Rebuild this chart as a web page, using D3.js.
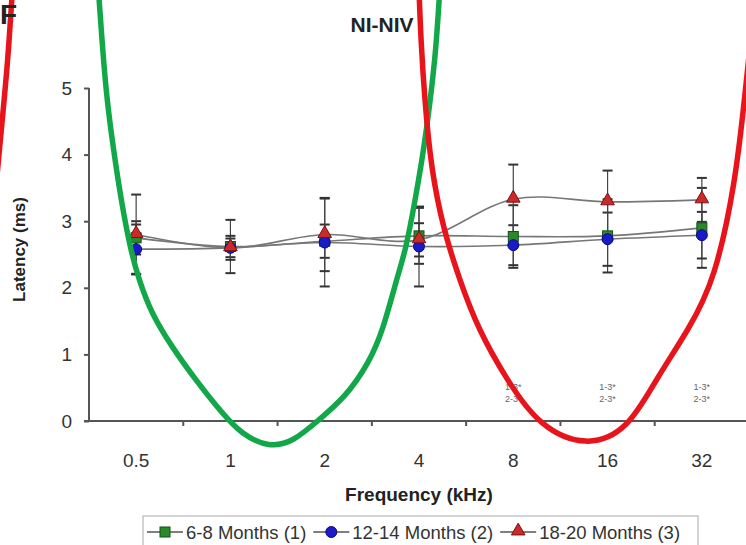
<!DOCTYPE html>
<html>
<head>
<meta charset="utf-8">
<script src="https://cdn.jsdelivr.net/npm/d3@7"></script>
<style>
  body { margin: 0; background: #fff; }
  svg { display: block; font-family: "Liberation Sans", Arial, sans-serif; }
</style>
</head>
<body>
<svg id="chart" width="746" height="545"></svg>
<script>
// frequencies (kHz) on the category axis
var frequencies = ["0.5", "1", "2", "4", "8", "16", "32"];

// mean latency (ms) per age group
var months6to8   = [2.75, 2.62, 2.70, 2.78, 2.77, 2.78, 2.90];
var months12to14 = [2.58, 2.60, 2.68, 2.62, 2.64, 2.73, 2.79];
var months18to20 = [2.80, 2.60, 2.80, 2.72, 3.33, 3.29, 3.32];

// error bar half-widths (ms)
var err6to8   = [0.25, 0.40, 0.25, 0.42, 0.47, 0.55, 0.60];
var err12to14 = [0.37, 0.14, 0.66, 0.60, 0.30, 0.40, 0.35];
var err18to20 = [0.60, 0.18, 0.55, 0.25, 0.52, 0.47, 0.33];

var yTicks = [0, 1, 2, 3, 4, 5];

// significance notes under each frequency
var sigFirst  = ["", "", "", "", "1-3*", "1-3*", "1-3*"];
var sigSecond = ["", "", "", "", "2-3*", "2-3*", "2-3*"];

// hand drawn loops over the figure, as [category position, latency]
var greenLoop = [[-0.40, 6.47], [-0.355, 5.57], [-0.31, 4.82], [-0.24, 4.07], [-0.16, 3.32],
    [-0.06, 2.57], [0.03, 2.12], [0.16, 1.62], [0.38, 1.11], [0.63, 0.62], [0.91, 0.12],
    [1.12, -0.20], [1.41, -0.40], [1.67, -0.31], [1.94, 0.02], [2.22, 0.36], [2.47, 0.87],
    [2.62, 1.37], [2.76, 2.12], [2.86, 2.57], [2.96, 3.32], [3.05, 4.07], [3.12, 4.82],
    [3.18, 5.57], [3.22, 6.47]];
var redLoop = [[3.00, 6.47], [3.02, 5.72], [3.06, 4.82], [3.13, 3.77], [3.26, 2.87],
    [3.43, 2.12], [3.63, 1.37], [3.93, 0.62], [4.27, -0.08], [4.78, -0.40], [5.22, -0.13],
    [5.51, 0.62], [5.86, 1.37], [6.14, 2.12], [6.36, 3.62], [6.45, 4.82], [6.52, 5.72],
    [6.55, 6.47]];
var redLoopLeft = [[-1.31, 6.47], [-1.32, 6.32], [-1.36, 5.42], [-1.42, 4.52], [-1.49, 3.47]];

var series = [
    { name: "6-8 Months (1)", values: months6to8, errors: err6to8, shape: "square", fill: "#2a8a2a", edge: "#14501a" },
    { name: "12-14 Months (2)", values: months12to14, errors: err12to14, shape: "circle", fill: "#1a1ac8", edge: "#0a0a7a" },
    { name: "18-20 Months (3)", values: months18to20, errors: err18to20, shape: "triangle", fill: "#cc2a2a", edge: "#7a1010" }
];

function drawLatencyChart() {
    let chart = d3.select("#chart"),
        margin = { top: 88, right: -3, bottom: 124, left: 89 },
        width = +chart.attr("width") - margin.left - margin.right,
        height = +chart.attr("height") - margin.top - margin.bottom;

    let x = d3.scaleBand()
        .domain(frequencies)
        .range([0, width]);

    let y = d3.scaleLinear()
        .domain([0, 5])
        .range([height, 0]);

    // category position scale, used for the hand drawn loops
    let xPos = d3.scaleLinear()
        .domain([0, frequencies.length - 1])
        .range([x(frequencies[0]) + x.bandwidth() / 2, x(frequencies[frequencies.length - 1]) + x.bandwidth() / 2]);

    let focus = chart.append("g")
        .attr("transform", "translate(" + margin.left + "," + margin.top + ")");

    // panel letter
    chart.append("text")
        .attr("x", 0)
        .attr("y", 24)
        .style("font-size", "28px")
        .style("font-weight", "bold")
        .style("fill", "#222")
        .text("F");

    chart.append("text")
        .attr("x", 382)
        .attr("y", 32)
        .attr("text-anchor", "middle")
        .style("font-size", "21px")
        .style("font-weight", "bold")
        .style("fill", "#222")
        .text("NI-NIV");

    // axes
    let yAxis = d3.axisLeft(y)
        .tickValues(yTicks)
        .tickFormat(d3.format("d"))
        .tickSize(5)
        .tickPadding(12);

    let gy = focus.append("g").call(yAxis);
    gy.select(".domain").attr("d", "M0," + y(5) + "V" + height);
    gy.selectAll("line").attr("stroke", "#555").attr("stroke-width", 2);
    gy.selectAll("path").attr("stroke", "#555").attr("stroke-width", 2);
    gy.selectAll("text")
        .style("font-size", "19px")
        .style("fill", "#333")
        .style("font-family", "Liberation Sans, Arial, sans-serif");

    let gx = focus.append("g")
        .attr("transform", "translate(0," + height + ")");
    gx.append("line")
        .attr("x1", -5)
        .attr("x2", width)
        .attr("stroke", "#555")
        .attr("stroke-width", 2);
    gx.selectAll(".tick")
        .data(frequencies.slice(1))
        .enter().append("line")
        .attr("x1", d => x(d))
        .attr("x2", d => x(d))
        .attr("y1", 0)
        .attr("y2", 5)
        .attr("stroke", "#555")
        .attr("stroke-width", 2);
    gx.selectAll(".label")
        .data(frequencies)
        .enter().append("text")
        .attr("x", d => x(d) + x.bandwidth() / 2)
        .attr("y", 46)
        .attr("text-anchor", "middle")
        .style("font-size", "19px")
        .style("fill", "#333")
        .text(d => d);

    focus.append("text")
        .attr("text-anchor", "middle")
        .attr("transform", "translate(" + (-64) + "," + (height / 2 - 5) + ") rotate(-90)")
        .style("font-size", "17px")
        .style("font-weight", "bold")
        .style("fill", "#222")
        .text("Latency (ms)");

    focus.append("text")
        .attr("text-anchor", "middle")
        .attr("x", x("4") + x.bandwidth() / 2)
        .attr("y", height + 80)
        .style("font-size", "19px")
        .style("font-weight", "bold")
        .style("fill", "#222")
        .text("Frequency (kHz)");

    // significance notes
    focus.selectAll(".sig1")
        .data(frequencies)
        .enter().append("text")
        .attr("x", d => x(d) + x.bandwidth() / 2)
        .attr("y", height - 31)
        .attr("text-anchor", "middle")
        .style("font-size", "9px")
        .style("fill", "#666")
        .text((d, i) => sigFirst[i]);
    focus.selectAll(".sig2")
        .data(frequencies)
        .enter().append("text")
        .attr("x", d => x(d) + x.bandwidth() / 2)
        .attr("y", height - 19)
        .attr("text-anchor", "middle")
        .style("font-size", "9px")
        .style("fill", "#666")
        .text((d, i) => sigSecond[i]);

    let cx = d => x(d) + x.bandwidth() / 2;

    // error bars
    series.forEach(s => {
        let bars = focus.append("g");
        frequencies.forEach((f, i) => {
            let top = y(s.values[i] + s.errors[i]),
                bottom = y(s.values[i] - s.errors[i]);
            bars.append("line")
                .attr("x1", cx(f)).attr("x2", cx(f))
                .attr("y1", top).attr("y2", bottom)
                .attr("stroke", "#444").attr("stroke-width", 1.2);
            [top, bottom].forEach(v => {
                bars.append("line")
                    .attr("x1", cx(f) - 5).attr("x2", cx(f) + 5)
                    .attr("y1", v).attr("y2", v)
                    .attr("stroke", "#333").attr("stroke-width", 2);
            });
        });
    });

    // smoothed lines
    let line = d3.line()
        .x((d, i) => cx(frequencies[i]))
        .y(d => y(d))
        .curve(d3.curveCatmullRom.alpha(0));

    series.forEach(s => {
        focus.append("path")
            .datum(s.values)
            .attr("d", line)
            .style("fill", "none")
            .style("stroke", "#777")
            .style("stroke-width", "1.6px");
    });

    function marker(g, s, px, py) {
        if (s.shape === "square") {
            g.append("rect")
                .attr("x", px - 5).attr("y", py - 5)
                .attr("width", 10).attr("height", 10)
                .attr("fill", s.fill).attr("stroke", s.edge);
        } else if (s.shape === "circle") {
            g.append("circle")
                .attr("cx", px).attr("cy", py).attr("r", 5.5)
                .attr("fill", s.fill).attr("stroke", s.edge);
        } else {
            g.append("path")
                .attr("d", d3.symbol(d3.symbolTriangle, 80)())
                .attr("transform", "translate(" + px + "," + (py - 1) + ")")
                .attr("fill", s.fill).attr("stroke", s.edge);
        }
    }

    series.forEach(s => {
        let g = focus.append("g");
        s.values.forEach((v, i) => marker(g, s, cx(frequencies[i]), y(v)));
    });

    // legend
    let legend = chart.append("g");
    legend.append("rect")
        .attr("x", 143).attr("y", 516)
        .attr("width", 555).attr("height", 40)
        .attr("fill", "#fff").attr("stroke", "#aaa");
    let lx = 147;
    series.forEach(s => {
        legend.append("line")
            .attr("x1", lx).attr("x2", lx + 36)
            .attr("y1", 532).attr("y2", 532)
            .attr("stroke", "#555").attr("stroke-width", 1.5);
        marker(legend, s, lx + 18, 532);
        let t = legend.append("text")
            .attr("x", lx + 39)
            .attr("y", 538.5)
            .style("font-size", "18.5px")
            .style("fill", "#333")
            .text(s.name);
        lx += 39 + t.node().getComputedTextLength() + 7;
    });

    // hand drawn loops
    let loop = d3.line()
        .x(d => xPos(d[0]))
        .y(d => y(d[1]))
        .curve(d3.curveBasis);

    [[greenLoop, "#12a84a"], [redLoop, "#e8141c"], [redLoopLeft, "#e8141c"]].forEach(l => {
        focus.append("path")
            .datum(l[0])
            .attr("d", loop)
            .style("fill", "none")
            .style("stroke", l[1])
            .style("stroke-width", "5.5px")
            .style("stroke-linecap", "round");
    });
}

drawLatencyChart();
</script>
</body>
</html>
